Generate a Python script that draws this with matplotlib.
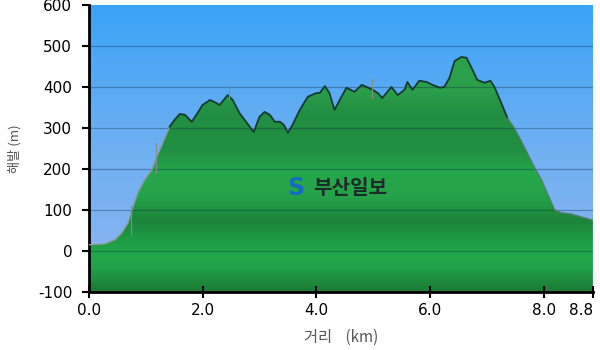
import numpy as np
import matplotlib
matplotlib.use("Agg")
import matplotlib.pyplot as plt
from matplotlib.colors import LinearSegmentedColormap

# ---- data ----
dist_km = [0.00, 0.28, 0.46, 0.58, 0.69, 0.76, 0.86, 0.98, 1.11, 1.19, 1.30, 1.42,
           1.51, 1.60, 1.69, 1.81, 1.91, 2.00, 2.13, 2.21, 2.30, 2.44, 2.53, 2.65,
           2.78, 2.90, 3.00, 3.09, 3.18, 3.27, 3.36, 3.43, 3.50, 3.58, 3.71, 3.85,
           4.00, 4.06, 4.15, 4.23, 4.32, 4.41, 4.53, 4.67, 4.80, 4.88, 4.99, 5.08,
           5.16, 5.32, 5.43, 5.55, 5.60, 5.69, 5.81, 5.94, 6.04, 6.17, 6.25, 6.34,
           6.43, 6.55, 6.64, 6.73, 6.83, 6.96, 7.06, 7.13, 7.25, 7.36, 7.48, 7.61,
           7.71, 7.83, 7.96, 8.06, 8.19, 8.31, 8.48, 8.66, 8.86]
elev_m = [15, 17, 27, 44, 68, 100, 141, 173, 198, 227, 263, 303,
          320, 334, 332, 315, 336, 356, 368, 363, 356, 380, 368, 336,
          312, 290, 327, 339, 332, 315, 315, 307, 288, 307, 344, 376,
          385, 385, 402, 385, 344, 368, 398, 388, 405, 400, 393, 385,
          373, 400, 380, 393, 412, 393, 415, 412, 405, 398, 400, 422,
          463, 473, 471, 446, 417, 410, 415, 400, 361, 324, 300, 266,
          239, 205, 173, 141, 100, 93, 90, 83, 75]
marker_km = [0.74, 1.19, 2.46, 4.97]
marker_lo = [40, 190, 370, 372]
marker_hi = [110, 262, 405, 420]

x_ticks = [0.0, 2.0, 4.0, 6.0, 8.0, 8.86]
x_ticklabels = ["0.0", "2.0", "4.0", "6.0", "8.0", "8.8"]
y_ticks = [-100, 0, 100, 200, 300, 400, 500, 600]

plt.rcParams['font.family'] = ['DejaVu Sans', 'Noto Sans CJK KR']

fig = plt.figure(figsize=(6, 3.5), dpi=100)
ax = fig.add_axes([0.148, 0.166, 0.840, 0.820])
xmin, xmax, ymin, ymax = 0, 8.86, -100, 600
ax.set_xlim(xmin, xmax)
ax.set_ylim(ymin, ymax)

# background blue gradient
bg = LinearSegmentedColormap.from_list("bg", ["#8eb5ef", "#6fb0f2", "#3aa3f6"])
grad = np.linspace(0, 1, 256).reshape(-1, 1)
ax.imshow(grad, cmap=bg, origin="lower", aspect="auto",
          extent=[xmin, xmax, ymin, ymax], zorder=0)

# green fill with gradient clipped to profile
xs = np.array(dist_km)
ys = np.array(elev_m)
poly = ax.fill_between(xs, ys, ymin, color="none", zorder=1)
gcm = LinearSegmentedColormap.from_list("gr", [
    (0.00, "#1b7a35"), (0.10, "#21a048"), (0.15, "#22a94b"), (0.22, "#1f9a44"),
    (0.30, "#1b8439"), (0.40, "#25a249"), (0.50, "#27a74c"), (0.60, "#1f8e40"),
    (0.75, "#228f42"), (0.85, "#2a9f4a"), (1.00, "#2aa34c")])
im = ax.imshow(grad, cmap=gcm, origin="lower", aspect="auto",
               extent=[xmin, xmax, ymin, 480], zorder=1)
im.set_clip_path(poly.get_paths()[0], transform=ax.transData)

# grid lines
for yv in y_ticks[1:-1]:
    ax.axhline(yv, color="#0b2a4a", alpha=0.35, lw=0.9, zorder=2)

# outline
ax.plot(xs[:12], ys[:12], color="#8a9a98", lw=1.0, zorder=3)
ax.plot(xs[11:70], ys[11:70], color="#123a30", lw=1.3, zorder=3)
ax.plot(xs[69:], ys[69:], color="#5a7a70", lw=0.9, zorder=3)

# waypoint markers
for mk, lo, hi in zip(marker_km, marker_lo, marker_hi):
    ax.plot([mk, mk], [lo, hi], color="#7f8f90", lw=0.8, zorder=3)

# watermark
ax.text(3.64, 154, "S", color="#1769c4", fontsize=17, fontweight="bold",
        ha="center", va="center", zorder=4)
ax.text(4.59, 154, "부산일보", color="#1d2a2a", fontsize=14.5, fontweight="bold",
        ha="center", va="center", family=["Noto Sans CJK KR"], zorder=4)

# axes styling
for s in ["top", "right"]:
    ax.spines[s].set_visible(False)
for s in ["left", "bottom"]:
    ax.spines[s].set_linewidth(2)
    ax.spines[s].set_color("black")
ax.set_yticks(y_ticks)
ax.set_yticklabels([str(v) for v in y_ticks])
ax.set_xticks(x_ticks)
ax.set_xticklabels(x_ticklabels)
ax.get_xticklabels()[-1].set_horizontalalignment("right")
ax.tick_params(axis="y", direction="out", length=5, width=1.5, labelsize=11, pad=7)
ax.tick_params(axis="x", direction="inout", length=8, width=1.5, labelsize=11, pad=4)

ax.set_ylabel("해발 (m)", family=["Noto Sans CJK KR", "DejaVu Sans"], fontsize=9.5,
              color="#555555", labelpad=12)
ax.set_xlabel("거리    (km)", family=["Noto Sans CJK KR", "DejaVu Sans"], fontsize=11,
              color="#555555", labelpad=8)

fig.savefig("out.png", dpi=100)
